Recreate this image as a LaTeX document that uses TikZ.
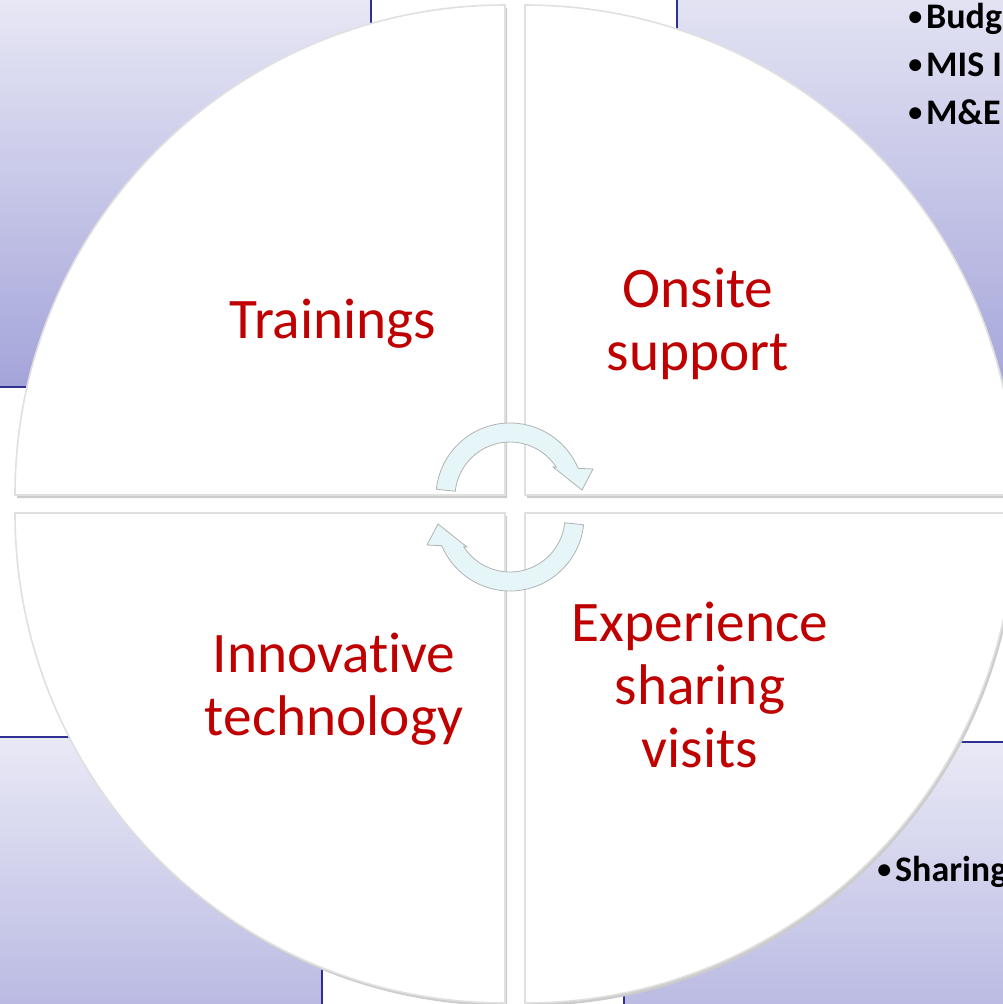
\documentclass[tikz,border=0pt]{standalone}
\usepackage{fontspec}
\setmainfont{Carlito}[Ligatures=NoCommon]
\definecolor{quadred}{RGB}{192,0,0}
\definecolor{navyline}{RGB}{46,49,146}
\definecolor{lavtop}{RGB}{233,233,246}
\definecolor{lavbot}{RGB}{164,164,218}
\definecolor{arrowfill}{RGB}{230,246,248}
\newcommand{\bulletdot}{\raisebox{2.2pt}{\fontsize{21}{21}\selectfont •}\hspace{3pt}}
\tikzset{
  bgrect/.style={top color=lavtop, bottom color=lavbot, draw=navyline, line width=1.5},
  quad/.style={fill=white, draw=black!12, line width=1.2},
  quadshadow/.style={fill=black!20},
  quadlabel/.style={text=quadred, font=\fontsize{43}{47}\selectfont, align=center, inner sep=0pt},
  bulletline/.style={font=\bfseries\fontsize{27}{32}\selectfont, anchor=base west, inner sep=0pt},
  cyclearrow/.style={fill=arrowfill, draw=black!30, line width=0.6},
}
\begin{document}
\begin{tikzpicture}[x=0.75pt,y=0.75pt,yscale=-1,xscale=1]
\useasboundingbox (0,0) rectangle (1003,1004);
\clip (0,0) rectangle (1003,1004);

%Background boxes
\shade[bgrect] (-10,-10) rectangle (371,387);
\shade[bgrect] (677,-40) rectangle (1015,400);
\shade[bgrect] (-10,737) rectangle (322,1130);
\shade[bgrect] (624,742) rectangle (1015,1135);

%Shape: Quarter top left
\fill[quadshadow] (507,498) -- (17,498) arc[start angle=180, end angle=270, radius=490] -- cycle;
\draw[quad] (505,495) -- (15,495) arc[start angle=180, end angle=270, radius=490] -- cycle;
%Shape: Quarter top right
\fill[quadshadow] (527,498) -- (527,8) arc[start angle=270, end angle=360, radius=490] -- cycle;
\draw[quad] (525,495) -- (525,5) arc[start angle=270, end angle=360, radius=490] -- cycle;
%Shape: Quarter bottom right
\fill[quadshadow] (527,516) -- (1017,516) arc[start angle=0, end angle=90, radius=490] -- cycle;
\draw[quad] (525,513) -- (1015,513) arc[start angle=0, end angle=90, radius=490] -- cycle;
%Shape: Quarter bottom left
\fill[quadshadow] (507,516) -- (507,1006) arc[start angle=90, end angle=180, radius=490] -- cycle;
\draw[quad] (505,513) -- (505,1003) arc[start angle=90, end angle=180, radius=490] -- cycle;

%Circular arrow top
\begin{scope}[shift={(510,497)},yscale=-1]
\draw[cyclearrow] (174:55) -- (174:74) arc[start angle=174, end angle=22.8, radius=74] -- (83,28) -- (72,7) -- (43,30) -- (32.8:55) arc[start angle=32.8, end angle=174, radius=55] -- cycle;
\end{scope}
%Circular arrow bottom
\begin{scope}[shift={(510,517)},rotate=180,yscale=-1]
\draw[cyclearrow] (174:55) -- (174:74) arc[start angle=174, end angle=22.8, radius=74] -- (83,28) -- (72,7) -- (43,30) -- (32.8:55) arc[start angle=32.8, end angle=174, radius=55] -- cycle;
\end{scope}

% Text Node
\node[quadlabel, anchor=base] (trainings) at (333,338) {Trainings};
% Text Node
\node[quadlabel, anchor=base] (onsite) at (698,370) {Onsite\\support};
% Text Node
\node[quadlabel, anchor=base] (innovtech) at (334,735) {Innovative\\technology};
% Text Node
\node[quadlabel, anchor=base] (expsharing) at (700,767) {Experience\\sharing\\visits};

% Text Node
\node[bulletline] (budg) at (908,28) {\bulletdot Budg};
\node[bulletline] (mis) at (908,76) {\bulletdot MIS I};
\node[bulletline] (mande) at (908,124) {\bulletdot M\&E};
\node[bulletline] (sharing) at (877,881) {\bulletdot Sharing};

\end{tikzpicture}
\end{document}
